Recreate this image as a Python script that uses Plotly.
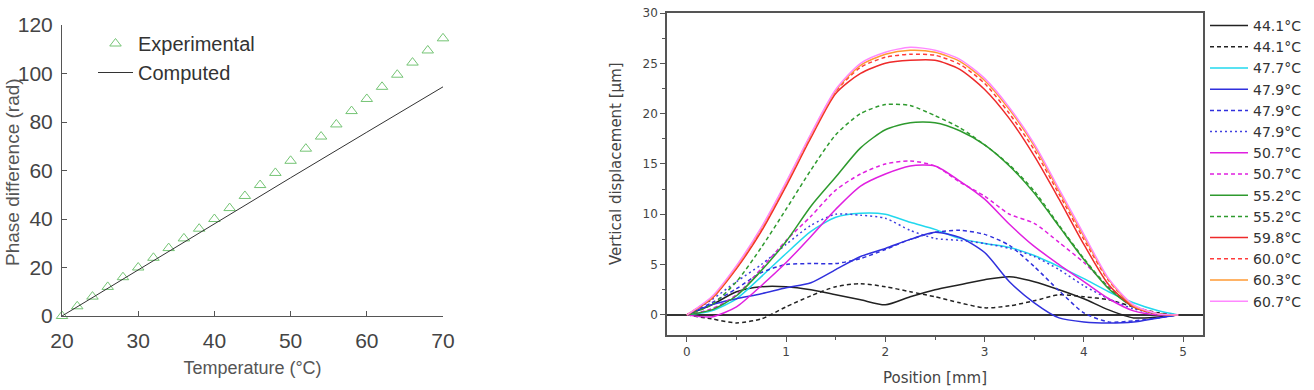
import plotly.graph_objects as go

# ---------------- Left chart data ----------------
temp_exp = [20, 22, 24, 26, 28, 30, 32, 34, 36, 38, 40, 42, 44, 46, 48, 50, 52, 54, 56, 58, 60, 62, 64, 66, 68, 70]
phase_exp = [0, 4, 8, 12, 16, 20, 24, 28, 32, 36, 40, 44.5, 49.5, 54, 59, 64, 69, 74, 79, 84.5, 89.5, 94.5, 99.5, 104.5, 109.5, 114.5]
temp_comp = [20, 30, 40, 50, 60, 70]
phase_comp = [0, 19, 38.3, 57, 75.8, 94.5]

# ---------------- Right chart data ----------------
pos = [0, 0.25, 0.5, 0.75, 1.0, 1.25, 1.5, 1.75, 2.0, 2.25, 2.5, 2.75, 3.0, 3.25, 3.5, 3.75, 4.0, 4.25, 4.5, 4.75, 4.95]

d441_solid = [0, 1.0, 2.3, 2.8, 2.8, 2.5, 2.0, 1.5, 1.0, 1.8, 2.5, 3.0, 3.5, 3.8, 3.3, 2.5, 1.6, 0.5, -0.3, -0.2, 0]
d441_dash = [0, -0.4, -0.8, -0.4, 0.8, 1.9, 2.8, 3.1, 2.8, 2.3, 1.8, 1.2, 0.7, 0.9, 1.4, 2.0, 1.8, 1.5, 0.8, 0.2, 0]
d477_solid = [0, 0.4, 1.6, 3.8, 6.1, 8.3, 9.7, 10.1, 10.0, 9.2, 8.5, 7.6, 7.1, 6.7, 5.9, 4.8, 3.6, 2.3, 1.2, 0.4, 0]
d479_solid = [0, 1.0, 1.6, 2.1, 2.7, 3.2, 4.5, 5.8, 6.6, 7.5, 8.2, 7.7, 6.2, 3.3, 1.2, -0.3, -0.7, -0.8, -0.7, -0.3, 0]
d479_dash = [0, 1.2, 2.6, 4.2, 5.0, 5.1, 5.1, 5.6, 6.5, 7.5, 8.2, 8.4, 8.0, 6.9, 4.8, 2.4, 0.2, -0.7, -0.6, -0.3, 0]
d479_dot = [0, 1.5, 3.3, 5.0, 7.0, 8.9, 10.0, 9.9, 9.6, 8.4, 7.6, 7.4, 7.1, 6.6, 5.8, 4.5, 2.9, 1.6, 0.6, 0.1, 0]
d507_solid = [0, -0.2, 0.8, 2.9, 5.2, 7.8, 10.5, 12.8, 14.0, 14.8, 14.8, 13.3, 11.5, 9.0, 6.8, 5.0, 3.3, 1.6, 0.4, 0.0, 0]
d507_dash = [0, 0.6, 2.0, 4.6, 7.4, 9.8, 12.4, 14.0, 15.0, 15.3, 14.8, 13.2, 11.8, 10.0, 9.1, 7.2, 5.2, 2.8, 0.8, 0.1, 0]
d552_solid = [0, 0.5, 1.9, 4.4, 7.3, 10.8, 13.7, 16.6, 18.4, 19.1, 19.1, 18.3, 16.9, 14.8, 12.1, 8.8, 5.5, 2.6, 0.8, 0.1, 0]
d552_dash = [0, 1.0, 3.3, 6.7, 10.5, 14.4, 17.9, 20.0, 20.9, 20.8, 19.8, 18.6, 16.9, 14.9, 12.3, 8.9, 5.6, 2.7, 0.8, 0.1, 0]
d598_solid = [0, 1.6, 4.6, 8.3, 12.8, 17.6, 22.0, 24.0, 25.0, 25.3, 25.3, 24.4, 22.4, 19.5, 15.8, 11.5, 7.0, 3.0, 0.8, 0.1, 0]
d600_dash = [0, 1.7, 4.7, 8.5, 13.0, 17.8, 22.2, 24.6, 25.6, 25.9, 25.8, 24.9, 23.0, 20.0, 16.4, 12.0, 7.5, 3.4, 0.9, 0.1, 0]
d603_solid = [0, 1.7, 4.8, 8.6, 13.1, 17.9, 22.3, 24.8, 25.9, 26.3, 26.1, 25.2, 23.3, 20.4, 16.8, 12.3, 7.8, 3.5, 0.9, 0.1, 0]
d607_solid = [0, 1.8, 4.9, 8.7, 13.2, 18.0, 22.4, 25.0, 26.1, 26.6, 26.3, 25.4, 23.5, 20.6, 17.0, 12.5, 8.0, 3.6, 1.0, 0.1, 0]

series = [
    ("44.1°C", d441_solid, "#222222", "solid"),
    ("44.1°C", d441_dash, "#222222", "4px,3px"),
    ("47.7°C", d477_solid, "#22d8ee", "solid"),
    ("47.9°C", d479_solid, "#3030dd", "solid"),
    ("47.9°C", d479_dash, "#3030dd", "4px,3px"),
    ("47.9°C", d479_dot, "#4040e0", "2px,3px"),
    ("50.7°C", d507_solid, "#e020e0", "solid"),
    ("50.7°C", d507_dash, "#e020e0", "4px,3px"),
    ("55.2°C", d552_solid, "#2e9a2e", "solid"),
    ("55.2°C", d552_dash, "#2e9a2e", "4px,3px"),
    ("59.8°C", d598_solid, "#ee2a2a", "solid"),
    ("60.0°C", d600_dash, "#ff3a3a", "4px,3px"),
    ("60.3°C", d603_solid, "#ff9a33", "solid"),
    ("60.7°C", d607_solid, "#ff88ff", "solid"),
]

ARIAL = "Liberation Sans, Arial, sans-serif"
DEJAVU = "DejaVu Sans, sans-serif"

fig = go.Figure()

# Left chart traces
fig.add_trace(go.Scatter(
    x=temp_exp, y=phase_exp, mode="markers", name="Experimental",
    marker=dict(symbol="triangle-up-open", size=10, color="#74c474", line=dict(width=1)),
    xaxis="x", yaxis="y", legend="legend2", cliponaxis=False,
))
fig.add_trace(go.Scatter(
    x=temp_comp, y=phase_comp, mode="lines", name="Computed",
    line=dict(color="#333333", width=1),
    xaxis="x", yaxis="y", legend="legend2",
))

# Right chart traces
for name, ys, col, dash in series:
    fig.add_trace(go.Scatter(
        x=pos, y=ys, mode="lines", name=name,
        line=dict(color=col, width=1.5, dash=dash, shape="spline", smoothing=0.7),
        xaxis="x2", yaxis="y2", legend="legend",
    ))

fig.update_layout(
    width=1314, height=390,
    margin=dict(l=0, r=0, t=0, b=0, autoexpand=False),
    paper_bgcolor="white", plot_bgcolor="white",
    font=dict(family=ARIAL, color="#333333"),
    xaxis=dict(
        domain=[62 / 1314, 443 / 1314], anchor="y", automargin=False,
        range=[20, 70], tickvals=[20, 30, 40, 50, 60, 70],
        showline=True, linecolor="#555555", linewidth=1,
        ticks="inside", ticklen=5, tickcolor="#555555", ticklabelstandoff=6,
        showgrid=False, zeroline=False,
        tickfont=dict(size=21, color="#444444"),
        title=dict(text="Temperature (°C)", font=dict(size=18, color="#555555"), standoff=10),
    ),
    yaxis=dict(
        domain=[(390 - 316) / 390, (390 - 25) / 390], anchor="x", automargin=False,
        range=[0, 120], tickvals=[0, 20, 40, 60, 80, 100, 120],
        showline=True, linecolor="#555555", linewidth=1,
        ticks="inside", ticklen=5, tickcolor="#555555", ticklabelstandoff=4,
        showgrid=False, zeroline=False,
        tickfont=dict(size=21, color="#444444"),
    ),
    xaxis2=dict(
        domain=[667 / 1314, 1203 / 1314], anchor="y2", automargin=False,
        range=[-0.2, 5.2], tickvals=[0, 1, 2, 3, 4, 5],
        showline=True, mirror=True, linecolor="#555555", linewidth=1.5,
        ticks="outside", ticklen=5, tickcolor="#555555",
        minor=dict(dtick=0.5, ticks="outside", ticklen=3, tickcolor="#555555"),
        showgrid=False, zeroline=False,
        tickfont=dict(size=12, color="#444444", family=DEJAVU),
        title=dict(text="Position [mm]", font=dict(size=15, color="#444444", family=DEJAVU), standoff=14),
    ),
    yaxis2=dict(
        domain=[(390 - 335) / 390, (390 - 13) / 390], anchor="x2", automargin=False,
        range=[-2, 30], tickvals=[0, 5, 10, 15, 20, 25, 30],
        showline=True, mirror=True, linecolor="#555555", linewidth=1.5,
        ticks="outside", ticklen=5, tickcolor="#555555",
        minor=dict(dtick=2.5, ticks="outside", ticklen=3, tickcolor="#555555"),
        showgrid=False, zeroline=True, zerolinecolor="#333333", zerolinewidth=1.5,
        tickfont=dict(size=12, color="#444444", family=DEJAVU),
    ),
    annotations=[
        dict(text="Phase difference (rad)", xref="paper", yref="paper",
             x=12 / 1314, y=1 - 172 / 390, xanchor="center", yanchor="middle", textangle=-90,
             showarrow=False, font=dict(size=19, color="#555555", family=ARIAL)),
        dict(text="Vertical displacement [µm]", xref="paper", yref="paper",
             x=616 / 1314, y=1 - 164 / 390, xanchor="center", yanchor="middle", textangle=-90,
             showarrow=False, font=dict(size=15, color="#444444", family=DEJAVU)),
    ],
    legend=dict(
        x=1205 / 1314, y=1 - 10 / 390, xanchor="left", yanchor="top",
        font=dict(size=14, color="#333333", family=DEJAVU),
        bgcolor="rgba(0,0,0,0)", itemwidth=38, tracegroupgap=0,
    ),
    legend2=dict(
        x=93 / 1314, y=1 - 24 / 390, xanchor="left", yanchor="top",
        font=dict(size=20, color="#333333", family=ARIAL),
        bgcolor="rgba(0,0,0,0)", itemwidth=35,
    ),
)

fig.write_html("out.html")
